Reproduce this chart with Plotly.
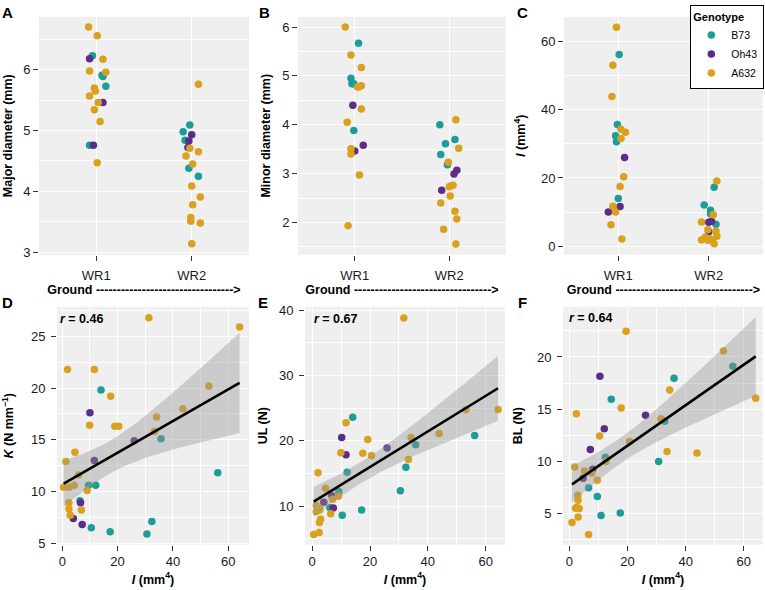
import numpy as np
import plotly.graph_objects as go

W, H = 765, 590
FONT = "Liberation Sans, Arial, sans-serif"
genotypes = ["B73", "Oh43", "A632"]
colors = {"B73": "#1c9d98", "Oh43": "#5c2d86", "A632": "#d9a11d"}
sites = ["WR1", "WR2"]

# ---------------- Panel A: major diameter (mm) ----------------
major_B73 = [6.23, 5.91, 5.89, 5.73, 4.76, 5.09, 4.98, 4.84, 4.38, 4.25]
major_B73_site = ["WR1"] * 5 + ["WR2"] * 5
major_B73_jit = [-0.04, 0.06, 0.07, 0.10, -0.07, -0.02, -0.09, -0.07, -0.03, 0.07]
major_Oh43 = [6.18, 5.46, 4.76, 4.93, 4.83, 4.72]
major_Oh43_site = ["WR1"] * 3 + ["WR2"] * 3
major_Oh43_jit = [-0.07, 0.07, -0.03, 0.00, -0.03, -0.04]
major_A632 = [6.70, 6.56, 6.17, 5.98, 5.96, 5.70, 5.65, 5.57, 5.46, 5.34, 5.15, 4.47,
              5.76, 4.71, 4.65, 4.58, 4.45, 4.09, 3.91, 3.78, 3.57, 3.51, 3.48, 3.14]
major_A632_site = ["WR1"] * 12 + ["WR2"] * 12
major_A632_jit = [-0.08, 0.01, 0.07, -0.07, 0.10, -0.02, -0.01, -0.07, 0.02, -0.02, 0.04, 0.01,
                  0.07, -0.02, 0.07, -0.06, 0.01, 0.00, 0.09, 0.01, -0.01, -0.01, 0.09, 0.00]

# ---------------- Panel B: minor diameter (mm) ----------------
minor_B73 = [5.67, 4.95, 4.84, 4.84, 3.88, 4.00, 3.70, 3.61, 3.39, 3.18]
minor_B73_site = ["WR1"] * 5 + ["WR2"] * 5
minor_B73_jit = [0.04, -0.04, -0.03, -0.01, -0.01, -0.10, 0.06, -0.04, -0.09, -0.02]
minor_Oh43 = [4.40, 3.58, 3.46, 3.07, 2.99, 2.66]
minor_Oh43_site = ["WR1"] * 3 + ["WR2"] * 3
minor_Oh43_jit = [-0.02, 0.09, 0.00, 0.08, 0.05, -0.08]
minor_A632 = [6.00, 5.43, 5.17, 4.80, 4.78, 4.77, 4.32, 4.05, 3.51, 3.40, 2.97, 1.93,
              4.10, 3.52, 3.23, 2.76, 2.75, 2.73, 2.54, 2.40, 2.23, 2.07, 1.86, 1.56]
minor_A632_site = ["WR1"] * 12 + ["WR2"] * 12
minor_A632_jit = [-0.10, -0.04, 0.07, 0.07, 0.05, 0.03, 0.07, -0.08, -0.04, -0.04, 0.05, -0.07,
                  0.07, 0.10, -0.01, 0.04, 0.02, 0.00, 0.01, -0.09, 0.06, 0.08, -0.06, 0.07]

# ---------------- Panel C: I (mm^4) ----------------
I_B73 = [56.2, 35.7, 32.4, 30.6, 14.0, 17.3, 12.1, 10.5, 9.5, 6.4]
I_B73_site = ["WR1"] * 5 + ["WR2"] * 5
I_B73_jit = [0.01, -0.01, -0.03, -0.02, 0.00, 0.06, -0.05, 0.02, 0.02, 0.08]
I_Oh43 = [26.0, 11.6, 10.0, 7.0, 7.3, 4.2]
I_Oh43_site = ["WR1"] * 3 + ["WR2"] * 3
I_Oh43_jit = [0.07, 0.02, -0.11, 0.00, 0.03, 0.00]
I_A632 = [64.2, 53.1, 43.9, 34.3, 33.4, 31.6, 20.4, 17.5, 11.7, 10.0, 6.3, 2.1,
          19.1, 9.2, 7.1, 4.8, 4.4, 2.9, 2.6, 2.2, 1.8, 1.6, 1.7, 0.7]
I_A632_site = ["WR1"] * 12 + ["WR2"] * 12
I_A632_jit = [-0.02, -0.06, -0.07, 0.03, 0.08, 0.03, 0.06, 0.02, -0.06, -0.03, -0.08, 0.04,
              0.09, 0.05, -0.08, -0.01, 0.08, 0.09, -0.04, 0.01, -0.08, 0.04, -0.01, 0.06]

# ---------------- Panel D: K (N mm^-1) vs I ----------------
D_I_B73 = [14.0, 35.7, 56.2, 9.5, 12.1, 6.4, 10.5, 17.3, 30.6, 32.4]
D_K_B73 = [19.8, 15.1, 11.8, 10.6, 10.6, 9.1, 6.5, 6.1, 5.9, 7.1]
D_I_Oh43 = [10.0, 26.0, 11.6, 6.6, 4.0, 7.2]
D_K_Oh43 = [17.6, 14.9, 13.0, 8.9, 7.4, 6.8]
D_I_A632 = [31.3, 64.1, 1.9, 11.6, 17.5, 53.0, 43.6, 34.1, 9.9, 19.0, 20.4, 33.3,
            1.3, 4.6, 5.9, 4.3, 0.5, 1.6, 2.5, 9.0, 2.4, 2.4, 6.9, 2.9]
D_K_A632 = [26.8, 25.9, 21.8, 21.8, 19.2, 20.2, 18.0, 17.2, 16.4, 16.3, 16.3, 15.8,
            12.9, 13.8, 11.6, 10.6, 10.4, 10.4, 10.4, 10.1, 8.9, 8.3, 8.2, 7.7]

# ---------------- Panel E: UL (N) vs I ----------------
E_I_B73 = [14.0, 56.2, 35.8, 32.4, 12.1, 30.5, 9.2, 6.1, 17.1, 10.4]
E_UL_B73 = [23.6, 20.8, 19.4, 15.95, 15.2, 12.35, 12.25, 9.75, 9.4, 8.6]
E_I_Oh43 = [10.2, 25.9, 11.7, 6.8, 4.0, 7.3]
E_UL_Oh43 = [20.5, 18.9, 17.85, 11.6, 10.6, 9.7]
E_I_A632 = [31.7, 64.3, 53.2, 11.7, 43.9, 34.2, 19.2, 9.9, 17.5, 20.5, 33.3, 2.0,
            4.6, 9.1, 7.1, 1.4, 2.5, 1.4, 6.4, 2.9, 2.5, 2.4, 0.5, 2.6]
E_UL_A632 = [38.8, 24.8, 24.75, 22.75, 21.1, 20.5, 20.2, 18.15, 18.1, 17.75, 17.15, 15.1,
             12.75, 11.5, 11.05, 10.1, 9.65, 9.15, 8.85, 8.0, 7.5, 5.95, 5.65, 9.4]

# ---------------- Panel F: BL (N) vs I ----------------
F_I_B73 = [56.2, 36.0, 14.4, 32.8, 12.4, 30.7, 6.6, 9.6, 10.9, 17.5]
F_BL_B73 = [19.12, 17.96, 15.96, 13.86, 10.4, 10.0, 7.5, 6.66, 4.84, 5.09]
F_I_Oh43 = [10.5, 26.2, 12.0, 7.2, 4.7, 8.0]
F_BL_Oh43 = [18.15, 14.43, 13.14, 11.14, 8.4, 9.26]
F_I_A632 = [19.5, 53.0, 34.5, 64.1, 17.8, 2.4, 31.5, 10.4, 20.7, 33.6, 43.9, 1.8,
            5.2, 7.6, 9.6, 2.9, 3.0, 2.1, 3.4, 3.0, 0.9, 6.6, 12.6, 2.5]
F_BL_A632 = [22.45, 20.56, 16.84, 16.05, 15.11, 14.58, 14.1, 12.45, 11.92, 10.95, 10.82, 9.48,
             9.1, 8.9, 8.2, 6.78, 6.3, 5.53, 5.5, 4.69, 4.18, 3.03, 10.0, 5.6]

r_labels = ["0.46", "0.67", "0.64"]
panel_letters = ["A", "B", "C", "D", "E", "F"]

# ---------------- layout geometry (pixels) ----------------
dom = {
    1: ((39, 249), (13, 255)),
    2: ((298, 506), (13, 255)),
    3: ((564, 763), (13, 255)),
    4: ((57, 249), (308, 550)),
    5: ((305, 505), (308, 550)),
    6: ((563, 763), (308, 550)),
}


def fx(px):
    return px / W


def fy(py):
    return 1 - py / H


fig = go.Figure()

strip = {
    1: (major_B73, major_B73_site, major_B73_jit, major_Oh43, major_Oh43_site, major_Oh43_jit,
        major_A632, major_A632_site, major_A632_jit),
    2: (minor_B73, minor_B73_site, minor_B73_jit, minor_Oh43, minor_Oh43_site, minor_Oh43_jit,
        minor_A632, minor_A632_site, minor_A632_jit),
    3: (I_B73, I_B73_site, I_B73_jit, I_Oh43, I_Oh43_site, I_Oh43_jit,
        I_A632, I_A632_site, I_A632_jit),
}

MS = 7.5
for p, d in strip.items():
    for gi, g in enumerate(genotypes):
        vals, site, jit = d[gi * 3], d[gi * 3 + 1], d[gi * 3 + 2]
        xs = [sites.index(s) + 1 + j for s, j in zip(site, jit)]
        fig.add_trace(go.Scatter(
            x=xs, y=vals, mode="markers", name=g, legendgroup=g,
            showlegend=(p == 1),
            marker=dict(color=colors[g], size=MS, line=dict(width=0)),
            xaxis=f"x{p}", yaxis=f"y{p}"))

scatter = {
    4: ((D_I_B73, D_K_B73), (D_I_Oh43, D_K_Oh43), (D_I_A632, D_K_A632)),
    5: ((E_I_B73, E_UL_B73), (E_I_Oh43, E_UL_Oh43), (E_I_A632, E_UL_A632)),
    6: ((F_I_B73, F_BL_B73), (F_I_Oh43, F_BL_Oh43), (F_I_A632, F_BL_A632)),
}


def fit_band(x, y, n_pts=100):
    x = np.asarray(x, float)
    y = np.asarray(y, float)
    n = len(x)
    b, a = np.polyfit(x, y, 1)
    xs = np.linspace(x.min(), x.max(), n_pts)
    yhat = a + b * xs
    resid = y - (a + b * x)
    s = np.sqrt(np.sum(resid ** 2) / (n - 2))
    sxx = np.sum((x - x.mean()) ** 2)
    se = s * np.sqrt(1 / n + (xs - x.mean()) ** 2 / sxx)
    t = 2.024  # t quantile 0.975, df = 38
    return xs, yhat, yhat - t * se, yhat + t * se


for p, groups in scatter.items():
    allx, ally = [], []
    for g, (xv, yv) in zip(genotypes, groups):
        allx += xv
        ally += yv
        fig.add_trace(go.Scatter(
            x=xv, y=yv, mode="markers", name=g, legendgroup=g, showlegend=False,
            marker=dict(color=colors[g], size=MS, line=dict(width=0)),
            xaxis=f"x{p}", yaxis=f"y{p}"))
    xs, yhat, lo, hi = fit_band(allx, ally)
    fig.add_trace(go.Scatter(
        x=np.concatenate([xs, xs[::-1]]), y=np.concatenate([hi, lo[::-1]]),
        fill="toself", fillcolor="rgba(150,150,150,0.4)", line=dict(width=0),
        mode="lines", showlegend=False, hoverinfo="skip",
        xaxis=f"x{p}", yaxis=f"y{p}"))
    fig.add_trace(go.Scatter(
        x=xs, y=yhat, mode="lines", line=dict(color="black", width=2.6),
        showlegend=False, hoverinfo="skip", xaxis=f"x{p}", yaxis=f"y{p}"))

tickfont = dict(family=FONT, size=13, color="#1a1a1a")
titlefont = dict(family=FONT, size=12.5, color="black")


def xaxis_cfg(p, **kw):
    (x0, x1), _ = dom[p]
    cfg = dict(domain=[fx(x0), fx(x1)], anchor=f"y{p}", showline=False, zeroline=False,
               ticks="outside", ticklen=5, tickwidth=1, tickcolor="#333333",
               tickfont=tickfont, gridcolor="white", gridwidth=1.2, fixedrange=True)
    cfg.update(kw)
    return cfg


def yaxis_cfg(p, **kw):
    _, (y0, y1) = dom[p]
    cfg = dict(domain=[fy(y1), fy(y0)], anchor=f"x{p}", showline=False, zeroline=False,
               ticks="outside", ticklen=5, tickwidth=1, tickcolor="#333333",
               tickfont=tickfont, gridcolor="white", gridwidth=1.2, fixedrange=True)
    cfg.update(kw)
    return cfg


minor = dict(showgrid=True, gridcolor="white", gridwidth=0.6, ticklen=0)
ground = "<b>Ground ---------------------------------></b>"
Ititle = "<b><i>I</i> (mm<sup>4</sup>)</b>"

layout = dict(
    width=W, height=H, margin=dict(l=0, r=0, t=0, b=0),
    paper_bgcolor="white", plot_bgcolor="#efefef",
    font=dict(family=FONT, color="black"),
    showlegend=True,
    legend=dict(title=dict(text="<b>Genotype</b>", font=dict(family=FONT, size=11)),
                x=fx(764), y=fy(1), xanchor="right", yanchor="top",
                bordercolor="black", borderwidth=1.3, bgcolor="white",
                font=dict(family=FONT, size=10.5), itemwidth=30, tracegroupgap=0),
)

top_y = {
    1: ("<b>Major diameter (mm)</b>", [2.96, 6.87], 1, 0.5, 7),
    2: ("<b>Minor diameter (mm)</b>", [1.34, 6.21], 1, 0.5, 8),
    3: (Ititle, [-2.5, 67.3], 20, 10, 12),
}
for p, (title, rng, dt, mdt, so) in top_y.items():
    layout[f"xaxis{p}"] = xaxis_cfg(
        p, range=[0.4, 2.6], tickmode="array", tickvals=[1, 2], ticktext=sites,
        ticklabelstandoff=4,
        title=dict(text=ground, font=titlefont, standoff=2))
    layout[f"yaxis{p}"] = yaxis_cfg(
        p, range=rng, dtick=dt, tick0=0, minor=dict(dtick=mdt, **minor),
        title=dict(text=title, font=titlefont, standoff=so))

bot = {
    4: ([-1.9, 67.5], [4.86, 27.85], "<b><i>K</i> (N mm<sup>−1</sup>)</b>", 5, 14),
    5: ([-2.5, 66.7], [4.1, 40.5], "<b>UL (N)</b>", 10, 8),
    6: ([-2.2, 66.6], [2.05, 24.8], "<b>BL (N)</b>", 5, 11),
}
for p, (xr, yr, yt, dt, so) in bot.items():
    layout[f"xaxis{p}"] = xaxis_cfg(
        p, range=xr, dtick=20, tick0=0, minor=dict(dtick=10, **minor),
        title=dict(text=Ititle, font=titlefont, standoff=6))
    layout[f"yaxis{p}"] = yaxis_cfg(
        p, range=yr, dtick=dt, tick0=0, minor=dict(dtick=dt / 2, **minor),
        ticklabelstandoff=3,
        title=dict(text=yt, font=titlefont, standoff=so))

annotations = []
letter_pos = [(8, 9), (264, 9), (522, 9), (8, 304), (263, 304), (522, 304)]
for L, (lx, ly) in zip(panel_letters, letter_pos):
    annotations.append(dict(text="<b>%s</b>" % L, x=fx(lx), y=fy(ly), xref="paper", yref="paper",
                            showarrow=False, xanchor="center", yanchor="middle",
                            font=dict(family=FONT, size=15, color="black")))
r_pos = [(58, 320), (312, 320), (567, 319)]
for r, (rx, ry) in zip(r_labels, r_pos):
    annotations.append(dict(text="<b><i>r</i> = %s</b>" % r, x=fx(rx), y=fy(ry),
                            xref="paper", yref="paper", showarrow=False,
                            xanchor="left", yanchor="middle",
                            font=dict(family=FONT, size=12.5, color="black")))
layout["annotations"] = annotations

fig.update_layout(**layout)
fig.write_html("out.html", config={"displayModeBar": False},
               post_script="document.body.style.margin='0px';document.body.style.padding='0px';")
